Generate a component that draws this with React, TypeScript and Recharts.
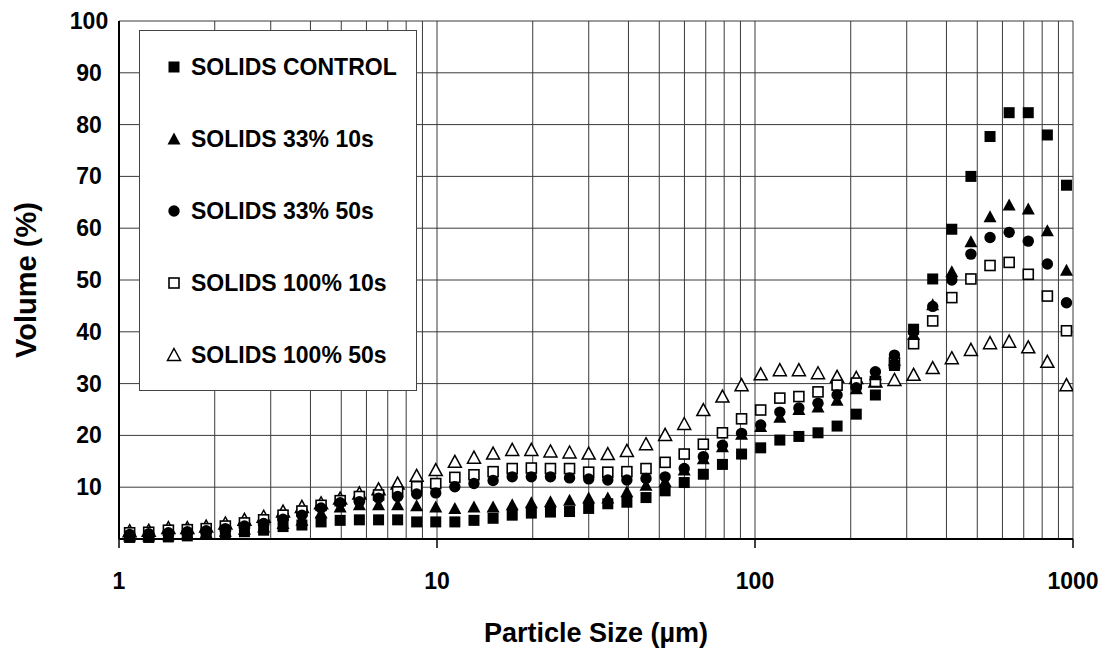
import React from 'react';
import { ScatterChart, Scatter, XAxis, YAxis, CartesianGrid, Legend } from 'recharts';

// particle size classes (µm)
const sizes = [
  1.08, 1.24, 1.43, 1.64, 1.88, 2.16, 2.48, 2.85, 3.28, 3.76,
  4.32, 4.96, 5.7, 6.55, 7.52, 8.63, 9.91, 11.38, 13.07, 15.01,
  17.24, 19.8, 22.74, 26.11, 29.99, 34.44, 39.55, 45.42, 52.16, 59.9,
  68.79, 79.0, 90.73, 104.2, 119.7, 137.4, 157.8, 181.2, 208.2, 239.1,
  274.5, 315.3, 362.1, 415.8, 477.5, 548.4, 629.8, 723.3, 830.6, 953.9,
];

const solidsControl = [
  0.3, 0.3, 0.4, 0.6, 0.9, 1.1, 1.4, 1.7, 2.4, 2.7,
  3.3, 3.6, 3.7, 3.7, 3.7, 3.3, 3.3, 3.3, 3.6, 4.0,
  4.6, 5.0, 5.2, 5.3, 5.9, 6.8, 7.1, 8.0, 9.3, 10.9,
  12.5, 14.4, 16.4, 17.6, 19.1, 19.8, 20.5, 21.8, 24.1, 27.8,
  33.5, 40.5, 50.2, 59.8, 70.0, 77.7, 82.3, 82.3, 78.0, 68.3,
];

const solids33_10 = [
  0.6, 0.6, 0.8, 1.0, 1.2, 1.5, 1.9, 2.3, 3.0, 3.6,
  5.0, 6.2, 6.6, 6.6, 6.6, 6.4, 6.2, 5.9, 6.2, 6.2,
  6.6, 7.0, 7.2, 7.5, 7.9, 7.9, 9.1, 10.4, 11.1, 13.3,
  15.5, 17.8, 20.2, 21.7, 23.5, 25.0, 25.5, 26.8, 29.0, 31.7,
  34.5, 39.5, 45.2, 51.6, 57.4, 62.2, 64.5, 63.7, 59.5, 51.9,
];

const solids33_50 = [
  0.9, 1.0, 1.2, 1.4, 1.6, 2.0, 2.5, 3.0, 3.8, 4.6,
  6.0, 7.0, 7.2, 7.9, 8.2, 8.7, 8.9, 10.1, 10.7, 11.3,
  12.0, 12.0, 12.0, 11.8, 11.6, 11.4, 11.4, 11.7, 12.0, 13.6,
  15.9, 18.1, 20.4, 22.0, 24.5, 25.3, 26.2, 27.8, 29.2, 32.3,
  35.5, 40.0, 44.9, 50.0, 55.0, 58.2, 59.2, 57.5, 53.1, 45.6,
];

const solids100_10 = [
  1.2, 1.3, 1.7, 1.8, 2.0, 2.5, 3.1, 3.7, 4.6, 5.4,
  6.5, 7.4, 8.2, 8.5, 9.1, 10.1, 10.7, 11.9, 12.4, 13.0,
  13.6, 13.7, 13.6, 13.6, 12.9, 12.9, 13.0, 13.6, 14.8, 16.4,
  18.3, 20.5, 23.2, 24.9, 27.2, 27.5, 28.4, 29.7, 30.1, 30.4,
  34.0, 37.7, 42.1, 46.6, 50.2, 52.8, 53.4, 51.1, 46.9, 40.2,
];

const solids100_50 = [
  1.5, 1.6, 2.1, 2.1, 2.4, 3.0, 3.7, 4.3, 5.3, 6.2,
  6.9, 7.8, 8.8, 9.6, 10.7, 12.2, 13.3, 14.9, 15.7, 16.5,
  17.2, 17.2, 16.9, 16.7, 16.5, 16.4, 17.0, 18.3, 20.1, 22.2,
  24.9, 27.5, 29.7, 31.8, 32.6, 32.6, 32.0, 31.3, 31.1, 30.4,
  30.7, 31.7, 33.0, 34.9, 36.5, 37.8, 38.1, 37.0, 34.2, 29.7,
];

const xGridTicks = [
  1, 2, 3, 4, 5, 6, 7, 8, 9,
  10, 20, 30, 40, 50, 60, 70, 80, 90,
  100, 200, 300, 400, 500, 600, 700, 800, 900, 1000,
];
const xLabelTicks = [1, 10, 100, 1000];
const yTicks = [0, 10, 20, 30, 40, 50, 60, 70, 80, 90, 100];

const FONT = '"Liberation Sans", Arial, sans-serif';
const PLOT_BOTTOM = 531;

const toPoints = (values: number[]) => sizes.map((x, i) => ({ x, y: values[i] }));

// marker shapes
const FilledSquare = ({ cx, cy }: any) => <rect x={cx - 5.5} y={cy - 5.5} width={11} height={11} fill="#000" />;
const FilledTriangle = ({ cx, cy }: any) => (
  <polygon points={`${cx},${cy - 6.5} ${cx + 6.5},${cy + 5.5} ${cx - 6.5},${cy + 5.5}`} fill="#000" />
);
const FilledCircle = ({ cx, cy }: any) => <circle cx={cx} cy={cy} r={5.7} fill="#000" />;
const OpenSquare = ({ cx, cy }: any) => (
  <rect x={cx - 5} y={cy - 5} width={10} height={10} fill="#fff" stroke="#000" strokeWidth={1.6} />
);
const OpenTriangle = ({ cx, cy }: any) => (
  <polygon
    points={`${cx},${cy - 6.5} ${cx + 6.5},${cy + 5.5} ${cx - 6.5},${cy + 5.5}`}
    fill="#fff"
    stroke="#000"
    strokeWidth={1.5}
  />
);

const series = [
  { name: 'SOLIDS CONTROL', values: solidsControl, Shape: FilledSquare },
  { name: 'SOLIDS 33% 10s', values: solids33_10, Shape: FilledTriangle },
  { name: 'SOLIDS 33% 50s', values: solids33_50, Shape: FilledCircle },
  { name: 'SOLIDS 100% 10s', values: solids100_10, Shape: OpenSquare },
  { name: 'SOLIDS 100% 50s', values: solids100_50, Shape: OpenTriangle },
];

const XTick = ({ x, payload }: any) => {
  if (!xLabelTicks.includes(payload.value)) return null;
  return (
    <g>
      <line x1={x} x2={x} y1={PLOT_BOTTOM} y2={PLOT_BOTTOM + 9} stroke="#000" strokeWidth={1.5} />
      <text x={x} y={573} textAnchor="middle" dominantBaseline="central" fontFamily={FONT} fontWeight="bold" fontSize={23} fill="#000">
        {payload.value}
      </text>
    </g>
  );
};

const YTick = ({ y, payload }: any) => {
  if (payload.value === 0) return null;
  return (
    <text x={81} y={y} textAnchor="middle" dominantBaseline="central" fontFamily={FONT} fontWeight="bold" fontSize={23} fill="#000">
      {payload.value}
    </text>
  );
};

const LegendBox = () => (
  <div
    style={{
      position: 'relative',
      width: 278,
      height: 361,
      boxSizing: 'border-box',
      background: '#fff',
      border: '1.5px solid #444',
      fontFamily: FONT,
      fontWeight: 'bold',
      fontSize: 23,
      color: '#000',
    }}
  >
    {series.map((s, i) => {
      const Shape = s.Shape;
      const centerY = 36 + i * 72;
      return (
        <div key={s.name} style={{ position: 'absolute', left: 26, top: centerY - 15, height: 30, display: 'flex', alignItems: 'center', whiteSpace: 'nowrap' }}>
          <svg width={16} height={16} style={{ marginRight: 9 }}>
            <Shape cx={8} cy={8} />
          </svg>
          <span>{s.name}</span>
        </div>
      );
    })}
  </div>
);

export default function App() {
  return (
    <ScatterChart width={1099} height={643} margin={{ top: 13, right: 34, bottom: 0, left: 0 }}>
      <CartesianGrid stroke="#3a3a3a" strokeWidth={1} />
      <XAxis
        type="number"
        dataKey="x"
        scale="log"
        domain={[1, 1000]}
        allowDataOverflow
        ticks={xGridTicks}
        interval={0}
        height={112}
        tick={<XTick />}
        tickLine={false}
        axisLine={{ stroke: '#000', strokeWidth: 2 }}
        label={{
          content: () => (
            <text x={588} y={625} textAnchor="middle" dominantBaseline="central" fontFamily={FONT} fontWeight="bold" fontSize={27} fill="#000">
              Particle Size (µm)
            </text>
          ),
        }}
      />
      <YAxis
        type="number"
        dataKey="y"
        domain={[0, 100]}
        ticks={yTicks}
        interval={0}
        width={111}
        tick={<YTick />}
        tickLine={false}
        axisLine={{ stroke: '#000', strokeWidth: 2 }}
        label={{
          content: () => (
            <text
              x={18}
              y={272}
              transform="rotate(-90 18 272)"
              textAnchor="middle"
              dominantBaseline="central"
              fontFamily={FONT}
              fontWeight="bold"
              fontSize={29}
              fill="#000"
            >
              Volume (%)
            </text>
          ),
        }}
      />
      <Legend
        layout="horizontal"
        verticalAlign="middle"
        align="center"
        content={() => <LegendBox />}
        wrapperStyle={{ left: 131, top: 22, width: 278, height: 361 }}
      />
      {[...series].reverse().map((s) => (
        <Scatter key={s.name} name={s.name} data={toPoints(s.values)} shape={<s.Shape />} isAnimationActive={false} />
      ))}
    </ScatterChart>
  );
}
